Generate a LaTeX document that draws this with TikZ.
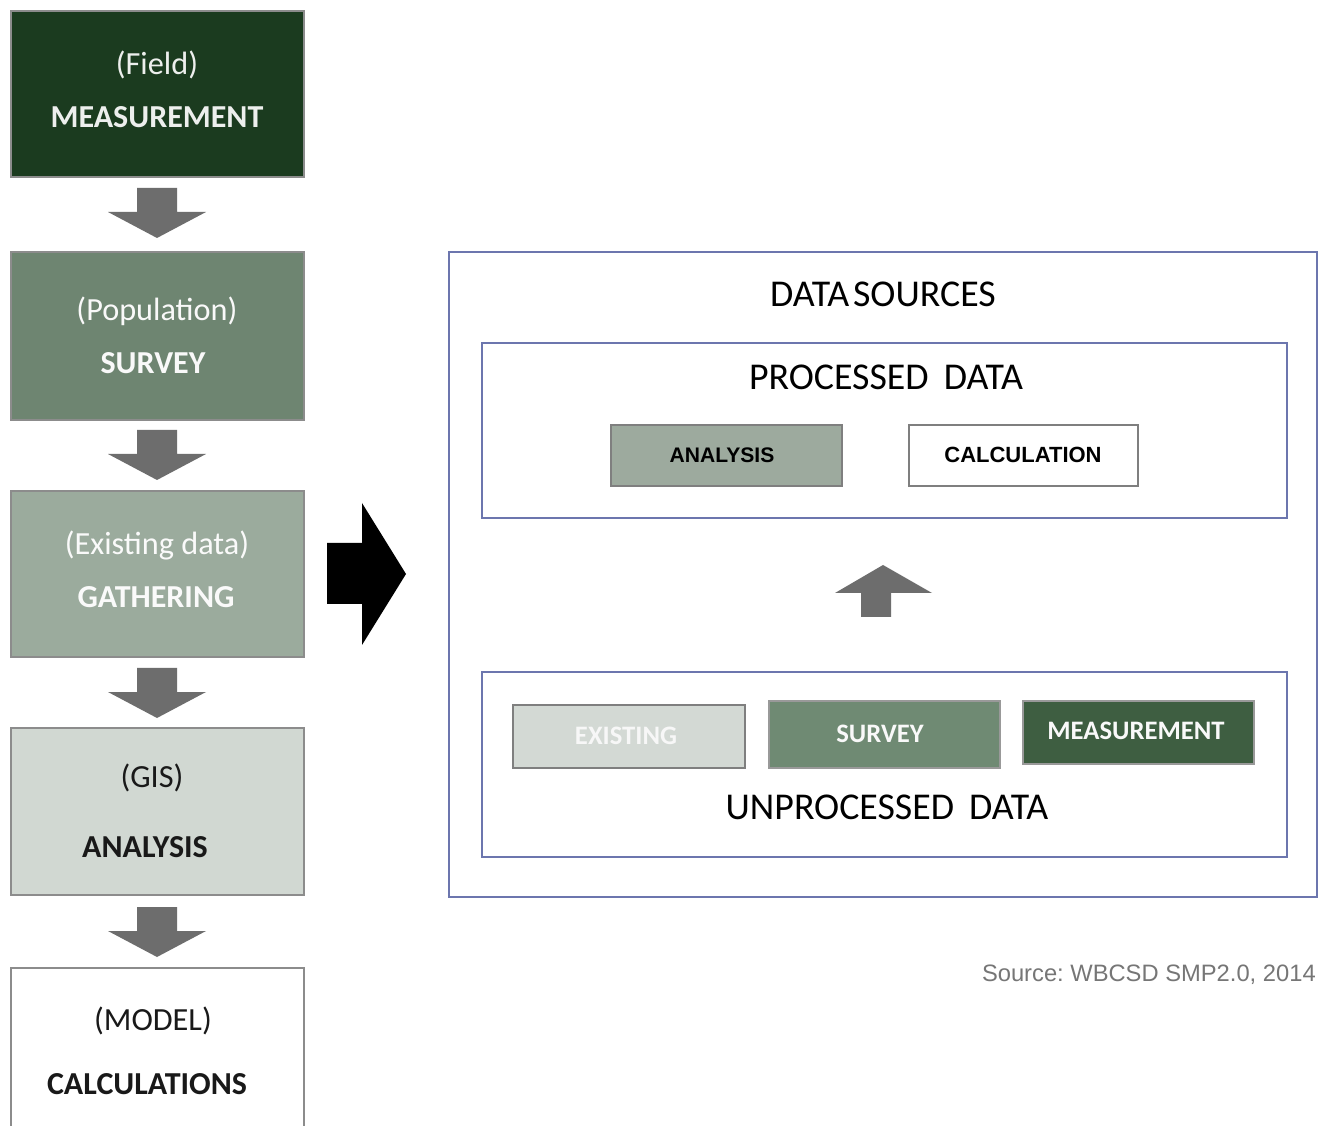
\documentclass[tikz,border=0pt]{standalone}
\usepackage{fontspec}
\setmainfont{Carlito}
\newfontfamily\arialf{Liberation Sans}
\frenchspacing
\definecolor{gA}{HTML}{1B3B1F}
\definecolor{gB}{HTML}{6E8571}
\definecolor{gC}{HTML}{9BAB9D}
\definecolor{gD}{HTML}{D1D8D2}
\definecolor{lborder}{HTML}{8C8C8C}
\definecolor{rborder}{HTML}{6C76AE}
\definecolor{sborder}{HTML}{7F7F7F}
\definecolor{arrowgray}{HTML}{6D6D6D}
\definecolor{sAna}{HTML}{9DAA9E}
\definecolor{sExi}{HTML}{D3D9D4}
\definecolor{sSur}{HTML}{6F8A73}
\definecolor{sMea}{HTML}{3E5E41}
\definecolor{srcgray}{HTML}{767676}
\begin{document}
\begin{tikzpicture}[x=0.75pt,y=-0.75pt,
  lbox/.style={draw=lborder, line width=1.5pt, anchor=north west, inner sep=0, minimum width=219.75pt},
  ltxt/.style={font=\fontsize{24.2}{28}\selectfont, inner sep=0},
  lbold/.style={font=\fontsize{24}{28}\selectfont\bfseries, inner sep=0},
  rbox/.style={draw=rborder, line width=1.5pt, anchor=north west, inner sep=0},
  sbox/.style={draw=sborder, line width=1.5pt, anchor=north west, inner sep=0},
  rtitle/.style={font=\fontsize{28.4}{32}\selectfont, inner sep=0, text=black},
  stxt/.style={font=\fontsize{20}{24}\selectfont\bfseries, inner sep=0},
  atxt/.style={font=\arialf\fontsize{15.8}{19}\selectfont\bfseries, inner sep=0, text=black},
  dnarrow/.pic={\fill[arrowgray] (-20,0) -- (20,0) -- (20,24) -- (49,24) -- (0,50) -- (-49,24) -- (-20,24) -- cycle;}
]
\fill[white] (0,0) rectangle (1318,1126);
\useasboundingbox (0,0) rectangle (1318,1126);

% left column boxes
\node[lbox, fill=gA, minimum height=124.5pt] (b1) at (10,10) {};
\node[lbox, fill=gB, minimum height=126pt] (b2) at (10,251) {};
\node[lbox, fill=gC, minimum height=124.5pt] (b3) at (10,490) {};
\node[lbox, fill=gD, minimum height=125.25pt] (b4) at (10,727) {};
\node[lbox, fill=white, minimum height=132pt] (b5) at (10,967) {};

\node[ltxt, text=gD!40!white] (t1a) at (157,65) {(Field)};
\node[lbold, text=gD!40!white] (t1b) at (157,117) {MEASUREMENT};
\node[ltxt, text=white!95!gray] (t2a) at (157,311) {(Population)};
\node[lbold, text=white!95!gray] (t2b) at (153,363) {SURVEY};
\node[ltxt, text=white!96!gray] (t3a) at (157,545) {(Existing data)};
\node[lbold, text=white!96!gray] (t3b) at (156,597) {GATHERING};
\node[ltxt, text=black!90] (t4a) at (152,778) {(GIS)};
\node[lbold, text=black!90] (t4b) at (145,847) {ANALYSIS};
\node[ltxt, text=black!90] (t5a) at (153,1021) {(MODEL)};
\node[lbold, text=black!90] (t5b) at (147,1084) {CALCULATIONS};

% down arrows
\pic at (157,188) {dnarrow};
\pic at (157,430) {dnarrow};
\pic at (157,668) {dnarrow};
\pic at (157,907) {dnarrow};

% big black arrow
\fill[black] (327,543) -- (362,543) -- (362,503) -- (406,574) -- (362,645) -- (362,604) -- (327,604) -- cycle;

% right side
\node[rbox, minimum width=651pt, minimum height=483.75pt] (ds) at (448,251) {};
\node[rtitle] (dst) at (883,294) {DATA\hspace{0.1em}SOURCES};
\node[rbox, minimum width=603.75pt, minimum height=131.25pt] (pd) at (481,342) {};
\node[rtitle] (pdt) at (886,377) {PROCESSED\hspace{0.4em}DATA};
\node[sbox, fill=sAna, minimum width=173.25pt, minimum height=45.75pt] (pa) at (610,424) {};
\node[atxt] (pat) at (722,455) {ANALYSIS};
\node[sbox, fill=white, minimum width=171.75pt, minimum height=45.75pt] (pc) at (908,424) {};
\node[atxt, font=\arialf\fontsize{16.5}{19}\selectfont\bfseries] (pct) at (1023,455) {CALCULATION};

% up arrow
\fill[arrowgray] (861,617) -- (891,617) -- (891,593) -- (932,593) -- (883,565) -- (835,593) -- (861,593) -- cycle;

\node[rbox, minimum width=603.75pt, minimum height=138.75pt] (ud) at (481,671) {};
\node[sbox, fill=sExi, minimum width=174pt, minimum height=47.25pt] (ue) at (512,704) {};
\node[stxt, text=white!94!gray] (uet) at (626,736) {EXISTING};
\node[sbox, draw=gray!80, fill=sSur, minimum width=173.25pt, minimum height=50.25pt] (us) at (768,700) {};
\node[stxt, text=white!95!gray] (ust) at (880,734) {SURVEY};
\node[sbox, draw=gray!80, fill=sMea, minimum width=173.25pt, minimum height=47.25pt] (um) at (1022,700) {};
\node[stxt, text=white!95!gray] (umt) at (1136,731) {MEASUREMENT};
\node[rtitle] (udt) at (887,807) {UNPROCESSED\hspace{0.4em}DATA};

\node[font=\arialf\fontsize{17.8}{21}\selectfont, text=srcgray, inner sep=0, anchor=east] (src) at (1316,975) {Source: WBCSD SMP2.0, 2014};
\end{tikzpicture}
\end{document}
